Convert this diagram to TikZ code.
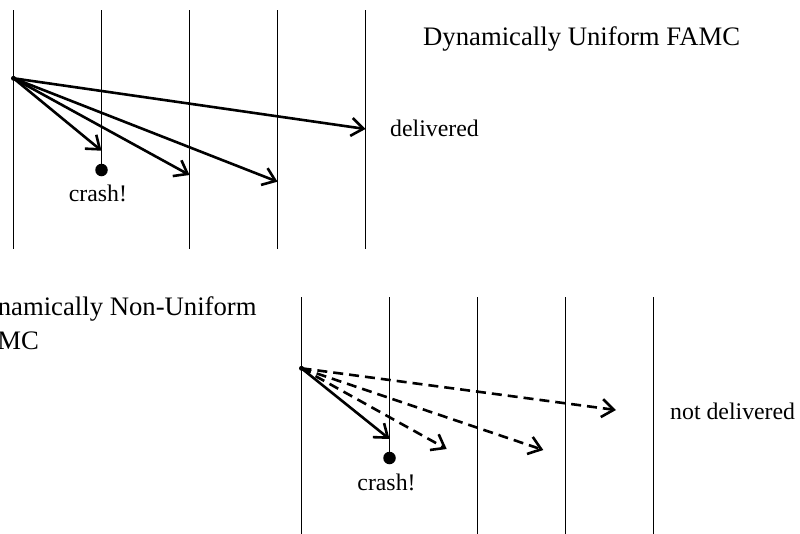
\documentclass[tikz,border=0pt]{standalone}
\usepackage{fontspec}
\setmainfont{Liberation Serif}
\usetikzlibrary{arrows.meta}
\begin{document}
\begin{tikzpicture}[x=1pt,y=-1pt,
  procline/.style={line width=1pt,black},
  msg/.style={line width=2.6pt,-{Straight Barb[length=12pt,width=18pt,line width=2.6pt]}},
  lostmsg/.style={msg,dash pattern=on 10pt off 6pt},
  crashdot/.style={circle,fill=black,inner sep=0pt,minimum size=12.5pt},
  lbl/.style={inner sep=0pt,font=\fontsize{23.8}{28}\selectfont},
  ttl/.style={inner sep=0pt,font=\fontsize{26.7}{34}\selectfont}]
\useasboundingbox (0,0) rectangle (800,533);
% ---------- top: dynamically uniform ----------
\foreach \i/\x in {1/13.5,2/101.5,3/189.5,4/277.5,5/365.5}{
  \coordinate (t\i top) at (\x,10);
  \coordinate (t\i bot) at (\x,249);
}
\node[crashdot] (tcrash) at (101.5,170) {};
\draw[procline] (t1top) -- (t1bot);
\draw[procline] (t2top) -- (tcrash.center);
\draw[procline] (t3top) -- (t3bot);
\draw[procline] (t4top) -- (t4bot);
\draw[procline] (t5top) -- (t5bot);
\coordinate (tsrc) at (13.5,78.3);
\coordinate (ta2) at (101.5,150.7);
\coordinate (ta3) at (189.5,175);
\coordinate (ta4) at (277.5,181.7);
\coordinate (ta5) at (365.5,129);
\draw[msg] (tsrc) -- (ta2);
\draw[msg] (tsrc) -- (ta3);
\draw[msg] (tsrc) -- (ta4);
\draw[msg] (tsrc) -- (ta5);
\fill (tsrc) circle (2.5pt);
\node[lbl,anchor=base] (tcrashlbl) at (98,201.7) {crash!};
\node[lbl,anchor=base west] (tdeliv) at (390,136.7) {delivered};
\node[ttl,anchor=base west] (ttitle) at (423,45.7) {Dynamically Uniform FAMC};
% ---------- bottom: dynamically non-uniform ----------
\foreach \i/\x in {1/301.5,2/389.5,3/477.5,4/565.5,5/653.5}{
  \coordinate (b\i top) at (\x,297);
  \coordinate (b\i bot) at (\x,535);
}
\node[crashdot] (bcrash) at (389.5,458) {};
\draw[procline] (b1top) -- (b1bot);
\draw[procline] (b2top) -- (bcrash.center);
\draw[procline] (b3top) -- (b3bot);
\draw[procline] (b4top) -- (b4bot);
\draw[procline] (b5top) -- (b5bot);
\coordinate (bsrc) at (301.5,368.3);
\coordinate (ba2) at (389.5,439);
\coordinate (ba3) at (446.7,449);
\coordinate (ba4) at (543.3,450);
\coordinate (ba5) at (616,410);
\draw[msg] (bsrc) -- (ba2);
\draw[lostmsg] (bsrc) -- (ba3);
\draw[lostmsg] (bsrc) -- (ba4);
\draw[lostmsg] (bsrc) -- (ba5);
\fill (bsrc) circle (2.5pt);
\node[lbl,anchor=base] (bcrashlbl) at (386.5,490) {crash!};
\node[lbl,anchor=base west] (bndeliv) at (670,419) {not delivered};
\node[ttl,anchor=base west,align=left] (btitle) at (-35,349) {Dynamically Non-Uniform\\FAMC};
\end{tikzpicture}
\end{document}
